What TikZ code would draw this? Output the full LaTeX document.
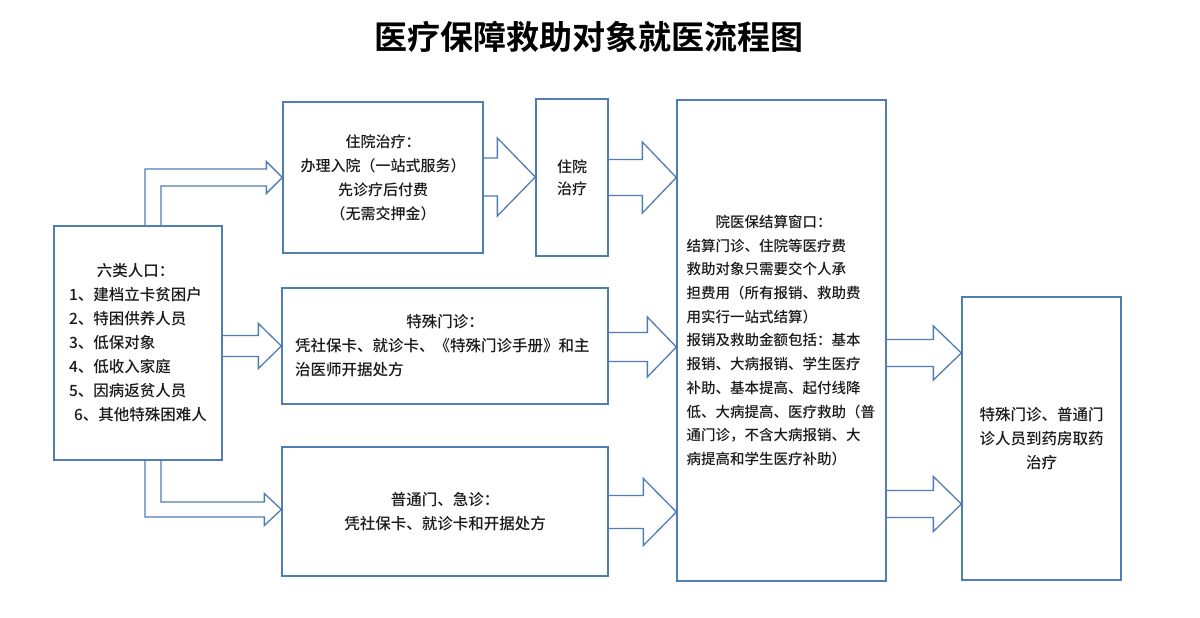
\documentclass[tikz,border=0pt]{standalone}
\usepackage{fontspec}
\newfontfamily\cjk{Noto Sans CJK SC Medium}[BoldFont={Noto Sans CJK SC Bold}]
\usetikzlibrary{calc}
\definecolor{edgec}{RGB}{79,125,180}
\definecolor{ink}{RGB}{25,25,25}
\tikzset{
  box/.style={draw=edgec, line width=1.3pt, rectangle, inner sep=0pt, text=ink, align=center,
    font=\cjk\fontsize{15.5}{24}\selectfont},
  barr/.style={draw=edgec, line width=1.3pt, line join=miter},
}
% #1 from node, #2 to node, #3 centre y, #4 shaft half width, #5 head half width, #6 head length
\newcommand{\blkarrow}[6]{%
  \draw[barr] (#1.east |- 0,#3-#4)
    -- ($(#2.west |- 0,#3)+(-#6,-#4)$)
    -- ($(#2.west |- 0,#3)+(-#6,-#5)$)
    -- (#2.west |- 0,#3)
    -- ($(#2.west |- 0,#3)+(-#6,#5)$)
    -- ($(#2.west |- 0,#3)+(-#6,#4)$)
    -- (#1.east |- 0,#3+#4);}
\begin{document}
\begin{tikzpicture}[x=1pt,y=-1pt]
\useasboundingbox[fill=white] (0,0) rectangle (1200,618);

\node[font=\cjk\bfseries\fontsize{33}{40}\selectfont, text=black] (title) at (589,37) {医疗保障救助对象就医流程图};

\node[box, minimum width=168pt, minimum height=234pt, align=left] (L) at (138,343)
  {\makebox[133pt][c]{六类人口：}\\1、建档立卡贫困户\\2、特困供养人员\\3、低保对象\\4、低收入家庭\\5、因病返贫人员\\\hspace*{5pt}6、其他特殊困难人};

\node[box, minimum width=200pt, minimum height=151pt, font=\cjk\fontsize{15}{24}\selectfont] (b2) at (383,177.5)
  {住院治疗：\\办理入院（一站式服务）\\先诊疗后付费\\（无需交押金）};

\node[box, minimum width=72pt, minimum height=157pt, font=\cjk\fontsize{15}{22}\selectfont] (b3) at (572,177.5)
  {住院\\治疗};

\node[box, minimum width=209pt, minimum height=481pt, text width=190pt, align=left,
      font=\cjk\fontsize{14.5}{23.7}\selectfont] (b4) at (781.5,340.5)
  {\hspace*{2em}院医保结算窗口：\\结算门诊、住院等医疗费\\救助对象只需要交个人承\\担费用（所有报销、救助费\\用实行一站式结算）\\报销及救助金额包括：基本\\报销、大病报销、学生医疗\\补助、基本提高、起付线降\\低、大病提高、医疗救助（普\\通门诊，不含大病报销、大\\病提高和学生医疗补助）};

\node[box, minimum width=326pt, minimum height=116pt, text width=300pt, align=left] (b5) at (445,346)
  {\makebox[300pt][c]{特殊门诊：}\\凭社保卡、就诊卡、《特殊门诊手册》和主\\治医师开据处方};

\node[box, minimum width=326pt, minimum height=129pt] (b6) at (445,511.5)
  {普通门、急诊：\\凭社保卡、就诊卡和开据处方};

\node[box, minimum width=159pt, minimum height=283pt] (b7) at (1041.5,438.5)
  {特殊门诊、普通门\\诊人员到药房取药\\治疗};

% bent arrows from the left box
\coordinate (t1) at ($(L.north)+(7,0)$);
\coordinate (t2) at ($(L.north)+(23,0)$);
\coordinate (t3) at ($(L.south)+(7,0)$);
\coordinate (t4) at ($(L.south)+(23,0)$);
\draw[barr] (t1) -- (t1 |- 0,169)
  -- ($(b2.west |- 0,177.5)+(-16,-8.5)$)
  -- ($(b2.west |- 0,177.5)+(-16,-16)$)
  -- (b2.west |- 0,177.5)
  -- ($(b2.west |- 0,177.5)+(-16,16)$)
  -- ($(b2.west |- 0,177.5)+(-16,8.5)$)
  -- (t2 |- 0,186) -- (t2);
\draw[barr] (t3) -- (t3 |- 0,517)
  -- ($(b6.west |- 0,509.5)+(-17,7.5)$)
  -- ($(b6.west |- 0,509.5)+(-17,16)$)
  -- (b6.west |- 0,509.5)
  -- ($(b6.west |- 0,509.5)+(-17,-16)$)
  -- ($(b6.west |- 0,509.5)+(-17,-7.5)$)
  -- (t4 |- 0,502) -- (t4);

% straight block arrows
\blkarrow{L}{b5}{346}{10.5}{22.5}{23}
\blkarrow{b2}{b3}{177}{19}{39}{38}
\blkarrow{b3}{b4}{177.5}{18}{35.5}{34}
\blkarrow{b5}{b4}{347}{14.5}{30}{29}
\blkarrow{b6}{b4}{512}{16.5}{33.5}{33}
\blkarrow{b4}{b7}{353}{13.5}{27}{28}
\blkarrow{b4}{b7}{504}{13.5}{27.5}{28}
\end{tikzpicture}
\end{document}
